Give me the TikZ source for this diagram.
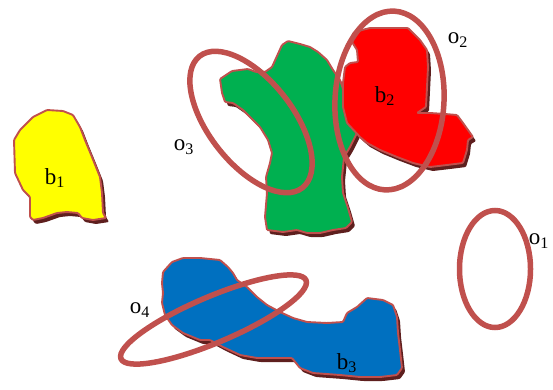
\documentclass[tikz,border=0pt]{standalone}
\usepackage{fontspec}
\setmainfont{Liberation Serif}
\definecolor{ringc}{HTML}{C0504D}
\definecolor{shadowc}{HTML}{5E1F1E}
\definecolor{edgec}{HTML}{C0504D}
\definecolor{byellow}{HTML}{FFFF00}
\definecolor{bgreen}{HTML}{00B050}
\definecolor{bred}{HTML}{FF0000}
\definecolor{bblue}{HTML}{0070C0}
\newcommand\myblob[2]{%
  \fill[shadowc,shift={(3,4)},rounded corners=1pt] #2;
  \filldraw[fill=#1,draw=edgec,line width=1.9pt,line join=round,rounded corners=1pt] #2;
}
\tikzset{
  ring/.style={draw=ringc,line width=5.5pt},
  lbl/.style={font=\fontsize{23}{26}\selectfont,inner sep=0pt}
}
\begin{document}
\begin{tikzpicture}[x=1pt,y=-1pt]
\useasboundingbox (0,0) rectangle (553,390);
% yellow b1
\myblob{byellow}{(14,140) -- (20,130) -- (33,117) -- (47,110) -- (63,111) -- (73,115) -- (80,127) -- (85,140) -- (92,157) -- (100,177) -- (102,193) -- (103,213) -- (106,218) -- (93,220) -- (82,218) -- (78,213) -- (67,212) -- (57,213) -- (43,218) -- (33,220) -- (30,217) -- (30,197) -- (23,190) -- (15,173) -- cycle}
% green
\myblob{bgreen}{(220,79) -- (232,71) -- (248,69) -- (256,72) -- (265,72) -- (272,67) -- (277,56) -- (282,45) -- (288,41) -- (300,44) -- (310,47) -- (318,52) -- (327,60) -- (333,70) -- (340,80) -- (345,95) -- (348,105) -- (352,120) -- (357,133) -- (350,147) -- (344,157) -- (342,177) -- (343,193) -- (348,208) -- (352,222) -- (346,228) -- (333,230) -- (320,233) -- (307,233) -- (297,230) -- (283,232) -- (267,230) -- (265,217) -- (267,193) -- (266,177) -- (270,163) -- (272,153) -- (268,140) -- (260,127) -- (253,120) -- (243,110) -- (233,103) -- (225,102) -- (222,93) -- cycle}
% red
\myblob{bred}{(353,33) -- (362,30) -- (370,28) -- (390,28) -- (408,28) -- (420,40) -- (427,50) -- (428,67) -- (427,87) -- (426,107) -- (417,113) -- (430,113) -- (445,114) -- (457,115) -- (463,123) -- (468,130) -- (473,137) -- (468,140) -- (467,150) -- (463,163) -- (447,165) -- (430,167) -- (413,163) -- (397,157) -- (380,150) -- (367,143) -- (360,137) -- (347,123) -- (343,107) -- (343,83) -- (345,67) -- (350,63) -- (358,62) -- (357,50) -- (352,42) -- cycle}
% blue
\myblob{bblue}{(163,272) -- (172,262) -- (183,258) -- (200,258) -- (220,260) -- (228,267) -- (233,273) -- (237,280) -- (247,287) -- (257,297) -- (267,305) -- (280,312) -- (293,318) -- (307,322) -- (327,323) -- (343,322) -- (347,313) -- (357,307) -- (367,298) -- (383,300) -- (393,305) -- (397,317) -- (398,333) -- (400,350) -- (402,368) -- (397,375) -- (380,377) -- (360,377) -- (340,375) -- (313,373) -- (300,368) -- (292,358) -- (277,358) -- (257,358) -- (240,355) -- (223,347) -- (210,340) -- (200,340) -- (183,333) -- (172,325) -- (165,315) -- (162,303) -- (163,293) -- (162,283) -- cycle}
% rings
\draw[ring] (495,269) ellipse [x radius=35.5pt, y radius=58.5pt];
\draw[ring,rotate around={-3:(389.5,100.5)}] (389.5,100.5) ellipse [x radius=54.5pt, y radius=89.5pt];
\draw[ring,rotate around={-52:(251,122)}] (251,122) ellipse [x radius=83.5pt, y radius=42pt];
\draw[ring,rotate around={23:(213.5,319.5)}] (213.5,319.5) ellipse [x radius=100.5pt, y radius=23pt];
% labels
\node[lbl] (lb1) at (55,178) {b\textsubscript{1}};
\node[lbl] (lb2) at (385,96) {b\textsubscript{2}};
\node[lbl] (lb3) at (347,363) {b\textsubscript{3}};
\node[lbl] (lo1) at (539,241) {o\textsubscript{1}};
\node[lbl] (lo2) at (458,40) {o\textsubscript{2}};
\node[lbl] (lo3) at (184,147) {o\textsubscript{3}};
\node[lbl] (lo4) at (140,310) {o\textsubscript{4}};
\end{tikzpicture}
\end{document}
